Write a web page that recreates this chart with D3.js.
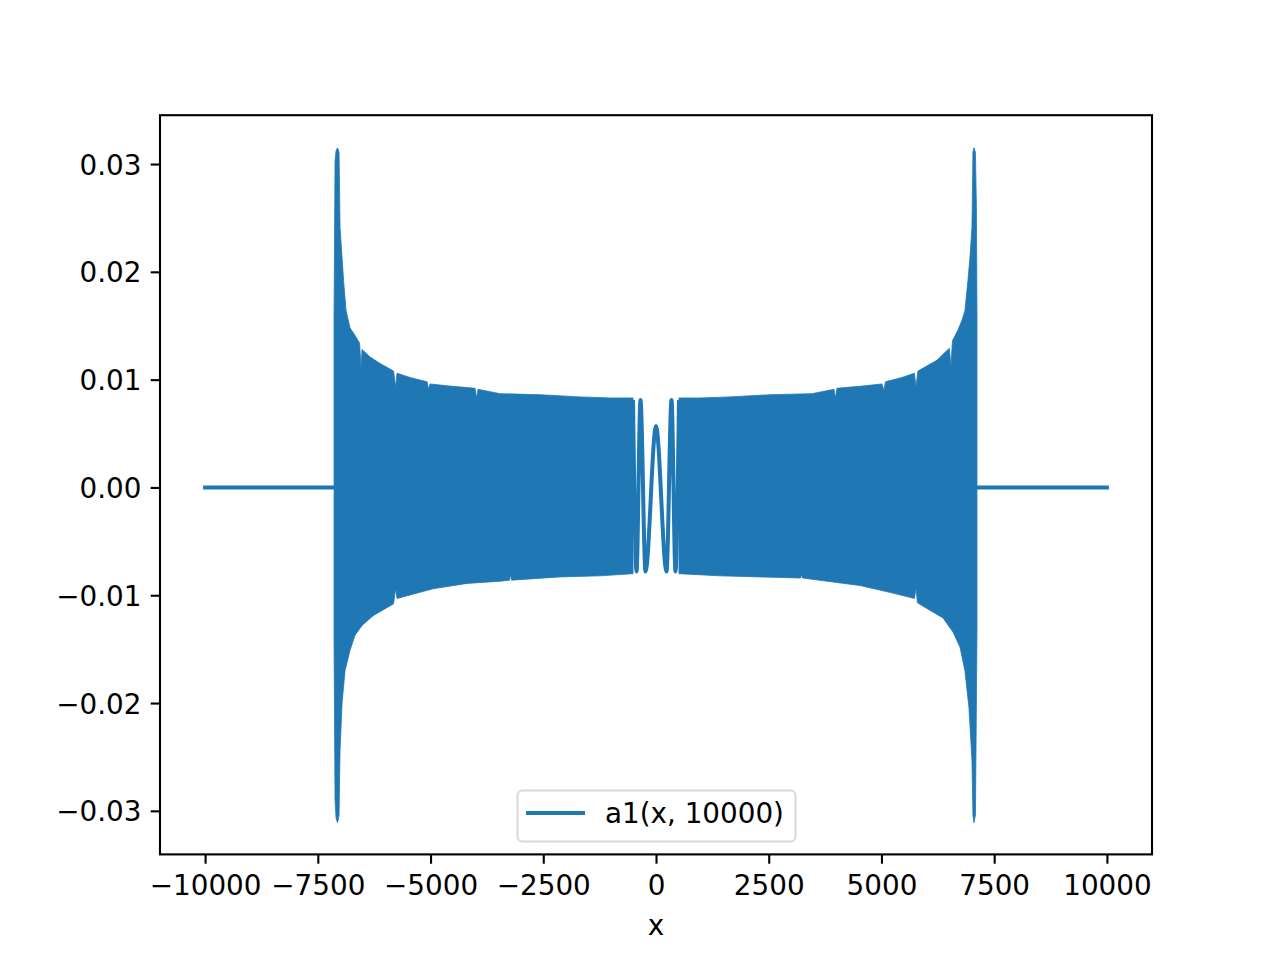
<!DOCTYPE html>
<html>
<head>
<meta charset="utf-8">
<script src="https://cdn.jsdelivr.net/npm/d3@7"></script>
<style>
  body { margin: 0; background: #fff; }
  text { font-family: "DejaVu Sans", sans-serif; }
</style>
</head>
<body>
<div id="container"></div>
<script>
// ticks
const xTicks = [-10000, -7500, -5000, -2500, 0, 2500, 5000, 7500, 10000]
const yTicks = [-0.03, -0.02, -0.01, 0.00, 0.01, 0.02, 0.03]

// flat parts of a1(x, 10000) outside the oscillation
const tailLeftX = [-10000, -7120]
const tailLeftY = [0, 0]
const tailRightX = [7100, 10000]
const tailRightY = [0, 0]

// dense oscillation, left side : upper and lower envelope
const leftUpX = [-7140, -7118, -7095, -7062, -7029, -7007, -6962, -6929, -6874, -6785, -6674, -6574, -6541, -6519, -6341, -6120, -5820, -5776, -5743, -5455, -5078, -5044, -5011, -4568, -4013, -3980, -3947, -3459, -2572, -1685, -1020, -510]
const leftUpY = [0.0160, 0.0303, 0.03125, 0.0315, 0.0311, 0.0241, 0.0213, 0.0192, 0.0164, 0.0148, 0.0141, 0.0134, 0.0111, 0.0128, 0.0121, 0.0115, 0.0108, 0.0093, 0.0106, 0.0102, 0.0098, 0.0091, 0.0096, 0.0094, 0.0092, 0.0083, 0.0091, 0.0087, 0.0086, 0.0084, 0.0083, 0.0083]
const leftLoX = [-7140, -7118, -7095, -7062, -7029, -7007, -6962, -6896, -6785, -6674, -6519, -6275, -5820, -5776, -5743, -4945, -4191, -3459, -3248, -3226, -3204, -2129, -1242, -510]
const leftLoY = [-0.0145, -0.0290, -0.0307, -0.0311, -0.0304, -0.0244, -0.0200, -0.0170, -0.0151, -0.0137, -0.0128, -0.0119, -0.0108, -0.0094, -0.0103, -0.0094, -0.0089, -0.0087, -0.0086, -0.0081, -0.0086, -0.0083, -0.0082, -0.0080]

// dense oscillation, right side
const rightUpX = [510, 976, 1641, 2528, 3459, 3947, 3980, 4013, 4568, 5011, 5055, 5089, 5455, 5732, 5765, 5809, 6231, 6452, 6508, 6541, 6574, 6696, 6785, 6851, 6918, 6962, 7007, 7029, 7051, 7084, 7106, 7118]
const rightUpY = [0.0083, 0.0083, 0.0084, 0.0086, 0.0087, 0.0091, 0.0083, 0.0092, 0.0094, 0.0096, 0.0090, 0.0098, 0.0102, 0.0106, 0.0093, 0.0108, 0.0118, 0.0127, 0.0129, 0.0111, 0.0136, 0.0146, 0.0155, 0.0164, 0.0192, 0.0213, 0.0241, 0.0311, 0.0315, 0.0311, 0.0260, 0.0160]
const rightLoX = [510, 1419, 2306, 3204, 3226, 3248, 4523, 5255, 5732, 5765, 5798, 6075, 6364, 6585, 6741, 6851, 6940, 7007, 7029, 7051, 7084, 7106, 7118]
const rightLoY = [-0.0080, -0.0082, -0.0083, -0.0084, -0.0081, -0.0084, -0.0091, -0.0098, -0.0103, -0.0093, -0.0107, -0.0114, -0.0121, -0.0134, -0.0148, -0.0170, -0.0204, -0.0253, -0.0304, -0.0311, -0.0304, -0.0198, -0.0135]

// the slow oscillations around 0 (peaks and troughs)
const coreX = [-510, -432, -344, -233, 0, 233, 344, 432, 510]
const coreY = [0.0081, -0.0078, 0.0081, -0.0078, 0.0057, -0.0078, 0.0081, -0.0078, 0.0081]

const seriesName = "a1(x, 10000)"
const xLabel = "x"

const blue = "#1f77b4"
const fontSize = 27.8

function zip(xs, ys) {
  return xs.map((x, i) => [x, ys[i]])
}

function displayChart() {
  const width = 1280, height = 960
  const margin = { top: 115.2, right: 128, bottom: 105.6, left: 160 }
  const plotW = width - margin.left - margin.right
  const plotH = height - margin.top - margin.bottom

  const svg = d3.select("#container").append("svg")
    .attr("width", width)
    .attr("height", height)

  const x = d3.scaleLinear()
    .domain([-11000, 11000])
    .range([margin.left, margin.left + plotW])

  const y = d3.scaleLinear()
    .domain([-0.03404, 0.03453])
    .range([margin.top + plotH, margin.top])

  svg.append("clipPath")
    .attr("id", "clip")
    .append("rect")
    .attr("x", margin.left)
    .attr("y", margin.top)
    .attr("width", plotW)
    .attr("height", plotH)

  const plot = svg.append("g").attr("clip-path", "url(#clip)")

  const line = d3.line().x(d => x(d[0])).y(d => y(d[1]))

  // enveloppes remplies (oscillation trop dense pour voir les traits)
  const polygon = (upX, upY, loX, loY) => zip(upX, upY).concat(zip(loX, loY).reverse())
  ;[polygon(leftUpX, leftUpY, leftLoX, leftLoY), polygon(rightUpX, rightUpY, rightLoX, rightLoY)].forEach(pts => {
    plot.append("path")
      .attr("d", line(pts) + "Z")
      .attr("fill", blue)
      .attr("stroke", blue)
      .attr("stroke-width", 0.8)
      .attr("stroke-linejoin", "round")
  })

  // central oscillations
  plot.append("path")
    .attr("d", line.curve(d3.curveMonotoneX)(zip(coreX, coreY)))
    .attr("fill", "none")
    .attr("stroke", blue)
    .attr("stroke-width", 4)
    .attr("stroke-linejoin", "round")
  line.curve(d3.curveLinear)

  // flat tails
  ;[zip(tailLeftX, tailLeftY), zip(tailRightX, tailRightY)].forEach(pts => {
    plot.append("path")
      .attr("d", line(pts))
      .attr("fill", "none")
      .attr("stroke", blue)
      .attr("stroke-width", 4)
      .attr("stroke-linecap", "square")
  })

  // axes
  const xAxis = d3.axisBottom(x)
    .tickValues(xTicks)
    .tickFormat(d3.format("d"))
    .tickSize(9.3)
    .tickPadding(12)
  const gx = svg.append("g")
    .attr("transform", "translate(0," + (margin.top + plotH) + ")")
    .call(xAxis)

  const yAxis = d3.axisLeft(y)
    .tickValues(yTicks)
    .tickFormat(d3.format(".2f"))
    .tickSize(9.3)
    .tickPadding(9.3)
  const gy = svg.append("g")
    .attr("transform", "translate(" + margin.left + ",0)")
    .call(yAxis)

  ;[gx, gy].forEach(g => {
    g.select(".domain").remove()
    g.selectAll(".tick line").attr("stroke", "#000").attr("stroke-width", 2.1)
    g.selectAll(".tick text")
      .attr("fill", "#000")
      .attr("font-size", fontSize)
      .attr("font-family", "DejaVu Sans")
  })
  gy.selectAll(".tick text").attr("dy", "0.36em")

  // spines
  svg.append("rect")
    .attr("x", margin.left)
    .attr("y", margin.top)
    .attr("width", plotW)
    .attr("height", plotH)
    .attr("fill", "none")
    .attr("stroke", "#000")
    .attr("stroke-width", 2.1)

  // x label
  svg.append("text")
    .attr("x", margin.left + plotW / 2)
    .attr("y", 935)
    .attr("text-anchor", "middle")
    .attr("font-size", fontSize)
    .text(xLabel)

  // legend
  const legend = svg.append("g")
  legend.append("rect")
    .attr("x", 517.5)
    .attr("y", 790.5)
    .attr("width", 278)
    .attr("height", 51)
    .attr("rx", 5)
    .attr("fill", "#fff")
    .attr("fill-opacity", 0.8)
    .attr("stroke", "#d9d9d9")
    .attr("stroke-width", 2)
  legend.append("line")
    .attr("x1", 528)
    .attr("x2", 583)
    .attr("y1", 813)
    .attr("y2", 813)
    .attr("stroke", blue)
    .attr("stroke-width", 4)
    .attr("stroke-linecap", "square")
  legend.append("text")
    .attr("x", 605)
    .attr("y", 823)
    .attr("font-size", fontSize)
    .text(seriesName)
}

displayChart()
</script>
</body>
</html>
